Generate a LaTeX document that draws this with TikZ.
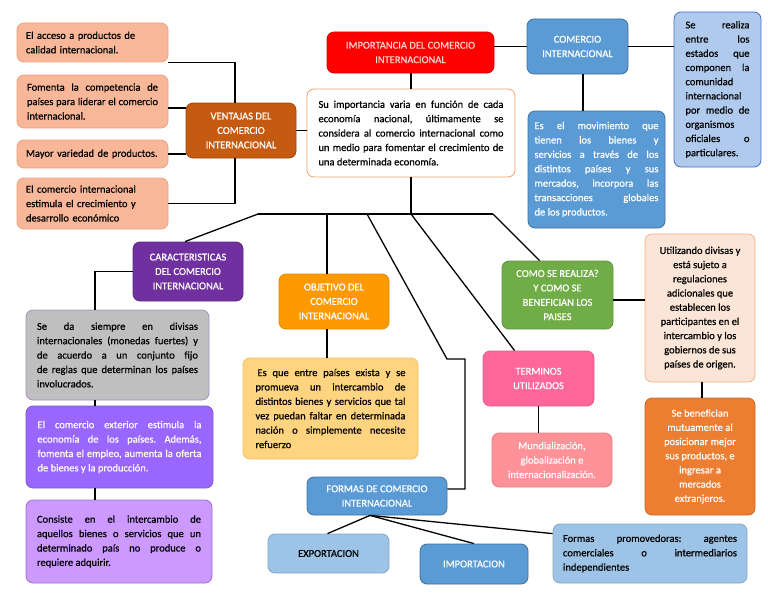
\documentclass[tikz,border=0pt]{standalone}
\usepackage{fontspec}
\setmainfont{Carlito}[UprightFeatures={FakeBold=0.6}]
\frenchspacing
\usetikzlibrary{calc}
\definecolor{peach}{RGB}{248,183,152}
\definecolor{peachd}{RGB}{240,160,125}
\definecolor{vent}{RGB}{197,90,17}
\definecolor{impred}{RGB}{255,0,0}
\definecolor{imptxt}{RGB}{255,215,215}
\definecolor{suline}{RGB}{240,160,110}
\definecolor{blueA}{RGB}{91,155,213}
\definecolor{blueAd}{RGB}{65,113,156}
\definecolor{blueL}{RGB}{176,202,238}
\definecolor{blueLd}{RGB}{68,114,196}
\definecolor{blueP}{RGB}{157,195,230}
\definecolor{carpur}{RGB}{112,48,160}
\definecolor{grayb}{RGB}{191,191,191}
\definecolor{graybd}{RGB}{165,145,195}
\definecolor{viol}{RGB}{153,102,255}
\definecolor{lilac}{RGB}{204,153,255}
\definecolor{lilacd}{RGB}{160,110,210}
\definecolor{objor}{RGB}{255,153,0}
\definecolor{yel}{RGB}{255,212,128}
\definecolor{yeld}{RGB}{245,190,90}
\definecolor{green}{RGB}{112,173,71}
\definecolor{utilf}{RGB}{251,229,214}
\definecolor{utild}{RGB}{244,177,131}
\definecolor{benor}{RGB}{237,125,49}
\definecolor{termpk}{RGB}{255,102,153}
\definecolor{mundpk}{RGB}{255,145,153}
\tikzset{
  bx/.style={rounded corners=7pt, draw, line width=0.8pt, inner sep=0pt,
    font=\fontsize{10.5}{14.4}\selectfont},
  ttl/.style={bx, text=white, align=center},
  ln/.style={line width=1.3pt, black},
}
\begin{document}
\begin{tikzpicture}[x=1pt, y=-1pt]
\fill[white] (0,0) rectangle (768,594);
\useasboundingbox (0,0) rectangle (768,594);

% left column
\node[bx, fill=peach, draw=peachd, minimum width=151pt, minimum height=39pt, text width=133pt, align=left] (b1) at (92.5,42.5) {El acceso a productos de\\calidad internacional.};
\node[bx, fill=peach, draw=peachd, minimum width=151pt, minimum height=53pt, text width=131pt, align=justify] (b2) at (92.5,101.5) {Fomenta la competencia de\linebreak países para liderar el comercio\linebreak internacional.};
\node[bx, fill=peach, draw=peachd, minimum width=151pt, minimum height=28pt, text width=133pt, align=left] (b3) at (92.5,154) {Mayor variedad de productos.};
\node[bx, fill=peach, draw=peachd, minimum width=151pt, minimum height=51pt, text width=133pt, align=left] (b4) at (92.5,203.5) {El comercio internacional\\estimula el crecimiento y\\desarrollo económico};

\node[ttl, fill=vent, draw=vent!80!black, minimum width=110pt, minimum height=55pt] (vent) at (241,130.5) {VENTAJAS DEL\\COMERCIO\\INTERNACIONAL};

% top centre
\node[ttl, fill=impred, draw=impred!85!black, text=imptxt, minimum width=167pt, minimum height=41pt] (imp) at (410.5,52.5) {IMPORTANCIA DEL COMERCIO\\INTERNACIONAL};
\node[bx, fill=white, draw=suline, minimum width=208pt, minimum height=88pt, text width=185pt, align=justify] (su) at (411,133) {Su importancia varia en función de cada\linebreak economía nacional, últimamente se\linebreak considera al comercio internacional como\linebreak un medio para fomentar el crecimiento de\linebreak una determinada economía.};

% top right
\node[ttl, fill=blueA, draw=blueAd, minimum width=101pt, minimum height=55pt] (com) at (577.5,46.5) {COMERCIO\\INTERNACIONAL};
\node[bx, fill=blueL, draw=blueLd, minimum width=87pt, minimum height=155pt, text width=64pt, align=justify, font=\fontsize{10.5}{14.2}\selectfont] (real) at (717.5,89.5) {Se realiza\linebreak entre los\linebreak estados que\linebreak componen la\linebreak comunidad\linebreak internacional\linebreak por medio de\linebreak organismos\linebreak oficiales o\linebreak particulares.};
\node[bx, fill=blueA, draw=blueAd, text=white, minimum width=137pt, minimum height=117pt, text width=124pt, align=justify] (mov) at (596.5,169.5) {Es el movimiento que\linebreak tienen los bienes y\linebreak servicios a través de los\linebreak distintos países y sus\linebreak mercados, incorpora las\linebreak transacciones globales\linebreak de los productos.};

% caracteristicas column
\node[ttl, fill=carpur, draw=carpur!85!black, minimum width=110pt, minimum height=59pt] (car) at (188,271.5) {CARACTERISTICAS\\DEL COMERCIO\\INTERNACIONAL};
\node[bx, fill=grayb, draw=graybd, minimum width=183pt, minimum height=90pt, text width=161pt, align=justify] (gray) at (117.5,355) {Se da siempre en divisas\linebreak internacionales (monedas fuertes) y\linebreak de acuerdo a un conjunto fijo\linebreak de reglas que determinan los países\linebreak involucrados.};
\node[bx, fill=viol, draw=viol!85!black, text=white, minimum width=187pt, minimum height=82pt, text width=164pt, align=justify] (ext) at (119.5,447) {El comercio exterior estimula la\linebreak economía de los países. Además,\linebreak fomenta el empleo, aumenta la oferta\linebreak de bienes y la producción.};
\node[bx, fill=lilac, draw=lilacd, minimum width=186pt, minimum height=83pt, text width=164pt, align=justify] (cons) at (119,541.5) {Consiste en el intercambio de\linebreak aquellos bienes o servicios que un\linebreak determinado país no produce o\linebreak requiere adquirir.};

% objetivo
\node[ttl, fill=objor, draw=objor!90!black, minimum width=110pt, minimum height=55pt] (obj) at (334,301.5) {OBJETIVO DEL\\COMERCIO\\INTERNACIONAL};
\node[bx, fill=yel, draw=yeld, minimum width=175pt, minimum height=101pt, text width=150pt, align=justify] (yel) at (330.5,408.5) {\hspace*{2pt}Es que entre países exista y se\linebreak promueva un intercambio de\linebreak distintos bienes y servicios que tal\linebreak vez puedan faltar en determinada\linebreak nación o simplemente necesite\linebreak refuerzo};

% como se realiza
\node[ttl, fill=green, draw=green!85!black, minimum width=111pt, minimum height=68pt] (como) at (557.5,295) {COMO SE REALIZA?\\Y COMO SE\\BENEFICIAN LOS\\PAISES};
\node[bx, fill=utilf, draw=utild, align=center, minimum width=110pt, minimum height=148pt, font=\fontsize{10.5}{14.2}\selectfont] (util) at (700,308) {Utilizando divisas y\\está sujeto a\\regulaciones\\adicionales que\\establecen los\\participantes en el\\intercambio y los\\gobiernos de sus\\países de origen.};
\node[ttl, fill=benor, draw=benor!85!black, minimum width=110pt, minimum height=117pt, font=\fontsize{10.5}{14.2}\selectfont] (ben) at (700,456.5) {Se benefician\\mutuamente al\\posicionar mejor\\sus productos, e\\ingresar a\\mercados\\extranjeros.};

% terminos
\node[ttl, fill=termpk, draw=termpk!90!black, minimum width=111pt, minimum height=55pt] (term) at (538.5,378.5) {TERMINOS\\UTILIZADOS};
\node[ttl, fill=mundpk, draw=mundpk!90!black, minimum width=120pt, minimum height=54pt] (mund) at (552,460) {Mundialización,\\globalización e\\internacionalización.};

% formas
\node[ttl, fill=blueA, draw=blueAd, minimum width=140pt, minimum height=38pt] (formas) at (377,496) {FORMAS DE COMERCIO\\INTERNACIONAL};
\node[bx, fill=blueP, draw=blueP!85!black, align=center, minimum width=121pt, minimum height=39pt] (expo) at (328.5,553.5) {EXPORTACION};
\node[ttl, fill=blueA, draw=blueAd, minimum width=108pt, minimum height=40pt] (impo) at (474,564) {IMPORTACION};
\node[bx, fill=blueP, draw=blueP!85!black, minimum width=194pt, minimum height=59pt, text width=174pt, align=justify] (prom) at (650,553.5) {Formas promovedoras: agentes\linebreak comerciales o intermediarios\linebreak independientes};

% helper coordinates
\coordinate (vj) at (235,0);
\coordinate (vy1) at (0,108);
\coordinate (gx) at (95,0);
\coordinate (barL) at (258,214);
\coordinate (barR) at (493,214);
\coordinate (barC) at (su.south |- barL);
\coordinate (bO) at (327,214);
\coordinate (bF) at (367,214);
\coordinate (fk1) at (447,359);
\coordinate (fk2) at (465,359);
\coordinate (fk3) at (465,489);
\coordinate (fs) at ($(formas.south)+(-7,0)$);
\coordinate (cx) at (583,0);
\coordinate (ox) at (327,0);
\coordinate (ux) at (702,0);
\coordinate (cy) at (0,300);

% connectors
\draw[ln] (b1.south east) -| (vent.north -| vj);
\draw[ln] (b2.east |- vy1) -- (vent.west |- vy1);
\draw[ln] (b3.east) -- (b3.east -| vent.west);
\draw[ln] (vent.south -| vj) |- (b4.east);
\draw[ln] (vent.east) -- (vent.east -| su.west);
\draw[ln] (imp.south -| su.south) -- (su.north);
\draw[ln] (imp.east |- com.west) -- (com.west);
\draw[ln] (com.east) -- (com.east -| real.west);
\draw[ln] (com.south -| cx) -- (mov.north -| cx);
\draw[ln] (su.south) -- (barC);
\draw[ln] (barL) -- (barR);
\draw[ln] (barL) -- ($(car.north)+(-3,0)$);
\draw[ln] (bO) -- (obj.north -| bO);
\draw[ln] (bF) -- (fk1) -- (fk2) -- (fk3) -- (fk3 -| formas.east);
\draw[ln] (barC) -- ($(term.north west)+(32,0)$);
\draw[ln] (barR) -- ($(como.north west)+(38,0)$);
\draw[ln] (car.west) -| (gray.north -| gx);
\draw[ln] (gray.south -| gx) -- (ext.north -| gx);
\draw[ln] (ext.south -| gx) -- (cons.north -| gx);
\draw[ln] (obj.south -| ox) -- (yel.north -| ox);
\draw[ln] (como.east |- cy) -- (util.west |- cy);
\draw[ln] (util.south -| ux) -- (ben.north -| ux);
\draw[ln] (term.south) -- (term.south |- mund.north);
\draw[ln] (fs) -- ($(expo.north)+(-1,0)$);
\draw[ln] (fs) -- (impo.north);
\draw[ln] (fs) -- ($(prom.north west)+(0,10)$);
\end{tikzpicture}
\end{document}
